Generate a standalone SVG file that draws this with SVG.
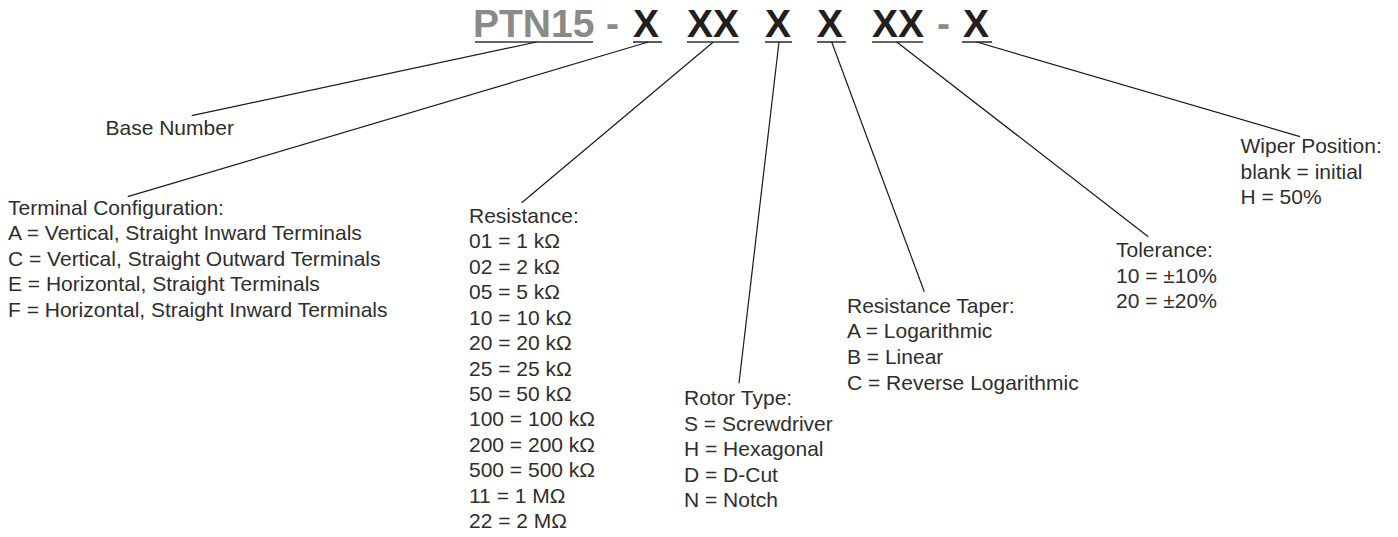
<svg xmlns="http://www.w3.org/2000/svg" width="1398" height="537" viewBox="0 0 1398 537">
<style>
.t{font-family:"Liberation Sans",Arial,sans-serif;font-size:21px;fill:#2e2e2e}
.h{font-family:"Liberation Sans",Arial,sans-serif;font-size:39px;font-weight:bold}
.g{fill:#8a8a86}
.k{fill:#231f20}
.u{stroke:#333;stroke-width:1.6}
.c{stroke:#1a1a1a;stroke-width:1.2;fill:none}
</style>
<rect width="1398" height="537" fill="#fff"/>
<g id="title">
<text class="h g" x="473" y="36.5">PTN15</text>
<text class="h g" x="606" y="36.5">-</text>
<text class="h k" x="633" y="36.5">X</text>
<text class="h k" x="687" y="36.5">XX</text>
<text class="h k" x="765" y="36.5">X</text>
<text class="h k" x="817" y="36.5">X</text>
<text class="h k" x="872" y="36.5">XX</text>
<text class="h g" x="937" y="36.5">-</text>
<text class="h k" x="963" y="36.5">X</text>
<line class="u" x1="475" y1="42" x2="593" y2="42"/>
<line class="u" x1="633" y1="42" x2="662" y2="42"/>
<line class="u" x1="687" y1="42" x2="739" y2="42"/>
<line class="u" x1="765" y1="42" x2="792" y2="42"/>
<line class="u" x1="817" y1="42" x2="846" y2="42"/>
<line class="u" x1="872" y1="42" x2="923" y2="42"/>
<line class="u" x1="962" y1="42" x2="992" y2="42"/>
</g>
<g id="connectors">
<line class="c" x1="536.7" y1="42" x2="191.7" y2="115.7"/>
<line class="c" x1="648.3" y1="42" x2="127.7" y2="196.7"/>
<line class="c" x1="713.3" y1="42" x2="521.7" y2="202.7"/>
<line class="c" x1="779" y1="42" x2="739" y2="383.3"/>
<line class="c" x1="831.7" y1="42" x2="924.3" y2="291.7"/>
<line class="c" x1="896.7" y1="42" x2="1148.3" y2="236.7"/>
<line class="c" x1="976.7" y1="42" x2="1300" y2="136.7"/>
</g>
<g id="base-number">
<text class="t" x="105.5" y="134.5">Base Number</text>
</g>
<g id="terminal-configuration">
<text class="t" x="8" y="215">Terminal Configuration:<tspan x="8" dy="25.45">A = Vertical, Straight Inward Terminals</tspan><tspan x="8" dy="25.45">C = Vertical, Straight Outward Terminals</tspan><tspan x="8" dy="25.45">E = Horizontal, Straight Terminals</tspan><tspan x="8" dy="25.45">F = Horizontal, Straight Inward Terminals</tspan></text>
</g>
<g id="resistance">
<text class="t" x="469" y="222.7">Resistance:<tspan x="469" dy="25.47">01 = 1 kΩ</tspan><tspan x="469" dy="25.47">02 = 2 kΩ</tspan><tspan x="469" dy="25.47">05 = 5 kΩ</tspan><tspan x="469" dy="25.47">10 = 10 kΩ</tspan><tspan x="469" dy="25.47">20 = 20 kΩ</tspan><tspan x="469" dy="25.47">25 = 25 kΩ</tspan><tspan x="469" dy="25.47">50 = 50 kΩ</tspan><tspan x="469" dy="25.47">100 = 100 kΩ</tspan><tspan x="469" dy="25.47">200 = 200 kΩ</tspan><tspan x="469" dy="25.47">500 = 500 kΩ</tspan><tspan x="469" dy="25.47">11 = 1 MΩ</tspan><tspan x="469" dy="25.47">22 = 2 MΩ</tspan></text>
</g>
<g id="rotor-type">
<text class="t" x="684" y="405">Rotor Type:<tspan x="684" dy="25.6">S = Screwdriver</tspan><tspan x="684" dy="25.6">H = Hexagonal</tspan><tspan x="684" dy="25.6">D = D-Cut</tspan><tspan x="684" dy="25.6">N = Notch</tspan></text>
</g>
<g id="resistance-taper">
<text class="t" x="847" y="312.7">Resistance Taper:<tspan x="847" dy="25.6">A = Logarithmic</tspan><tspan x="847" dy="25.6">B = Linear</tspan><tspan x="847" dy="25.6">C = Reverse Logarithmic</tspan></text>
</g>
<g id="tolerance">
<text class="t" x="1116" y="257.3">Tolerance:<tspan x="1116" dy="25.5">10 = ±10%</tspan><tspan x="1116" dy="25.5">20 = ±20%</tspan></text>
</g>
<g id="wiper-position">
<text class="t" x="1240.5" y="153.3">Wiper Position:<tspan x="1240.5" dy="25.4">blank = initial</tspan><tspan x="1240.5" dy="25.4">H = 50%</tspan></text>
</g>
</svg>
